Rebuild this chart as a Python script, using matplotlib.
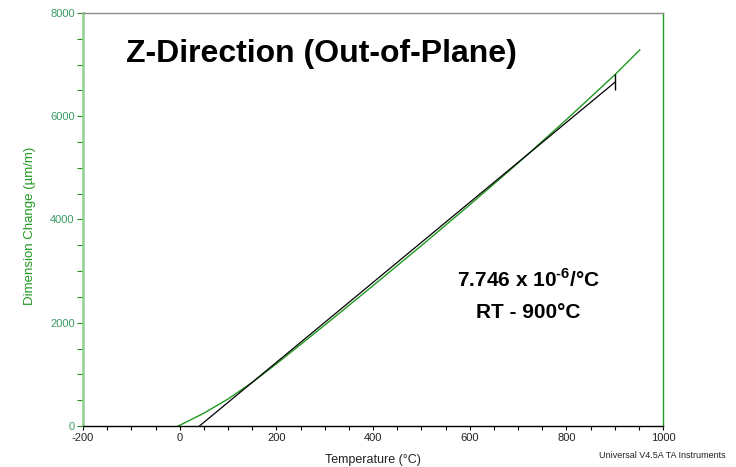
import matplotlib
matplotlib.use('Agg')
import matplotlib.pyplot as plt
from matplotlib.ticker import MultipleLocator

plt.rcParams['font.family'] = ['Liberation Sans', 'DejaVu Sans']
plt.rcParams['axes.unicode_minus'] = False
plt.rcParams['mathtext.fontset'] = 'custom'
plt.rcParams['mathtext.bf'] = 'Liberation Sans:bold'
plt.rcParams['mathtext.rm'] = 'Liberation Sans:bold'

temp = [-3, 0, 50, 100, 150, 200, 300, 400, 500, 600, 700, 800, 900, 952]
dim_change = [0, 13, 248, 523, 843, 1203, 1953, 2718, 3493, 4283, 5093,
              5933, 6800, 7285]

# linear fit line (black), RT - 900 C
fit_temp = [41, 900]
fit_change = [0, 6654]

title = 'Z-Direction (Out-of-Plane)'
cte_text = r'7.746 x 10$^{\text{-6}}$/°C'
range_text = 'RT - 900°C'

green = '#1f991f'
tick_green = '#3a9a62'

fig = plt.figure(figsize=(7.36, 4.67), dpi=100)
ax = fig.add_axes([83 / 736, 41 / 467, 580 / 736, 413 / 467])

ax.plot(temp, dim_change, color=green, lw=1.0)
ax.plot(fit_temp, fit_change, color='black', lw=0.9,
        marker='|', markevery=[1], markersize=11, markeredgewidth=1.0)

ax.set_xlim(-200, 1000)
ax.set_ylim(0, 8000)
ax.xaxis.set_major_locator(MultipleLocator(200))
ax.xaxis.set_minor_locator(MultipleLocator(50))
ax.yaxis.set_major_locator(MultipleLocator(2000))
ax.yaxis.set_minor_locator(MultipleLocator(500))

ax.tick_params(axis='x', which='both', direction='out', colors='black',
               labelcolor='#222222', labelsize=8, length=3, width=0.8, pad=2)
ax.tick_params(axis='y', which='both', direction='out', colors='#2a8a2a',
               labelcolor=tick_green, labelsize=8, length=4, width=0.8, pad=2)

ax.spines['left'].set_color('#8fd08f')
ax.spines['left'].set_linewidth(1.8)
ax.spines['top'].set_color('#8c8c8c')
ax.spines['top'].set_linewidth(1.0)
ax.spines['right'].set_color(green)
ax.spines['right'].set_linewidth(1.0)
ax.spines['bottom'].set_color('black')
ax.spines['bottom'].set_linewidth(1.0)

ax.set_xlabel('Temperature (°C)', fontsize=9, color='#222222', labelpad=8)
ax.set_ylabel('Dimension Change (µm/m)', fontsize=9.5, color=green)
ax.yaxis.set_label_coords(-0.081, 0.484)

ax.text(293, 7051, title, fontsize=23, fontweight='bold',
        ha='center', va='baseline')
ax.text(721, 2692, cte_text, fontsize=15, fontweight='bold',
        ha='center', va='baseline')
ax.text(721, 2092, range_text, fontsize=15, fontweight='bold',
        ha='center', va='baseline')

fig.text(726 / 736, 1 - 455 / 467, 'Universal V4.5A TA Instruments',
         fontsize=6.5, color='#222222', ha='right', va='center')

fig.savefig('out.png', dpi=100)
